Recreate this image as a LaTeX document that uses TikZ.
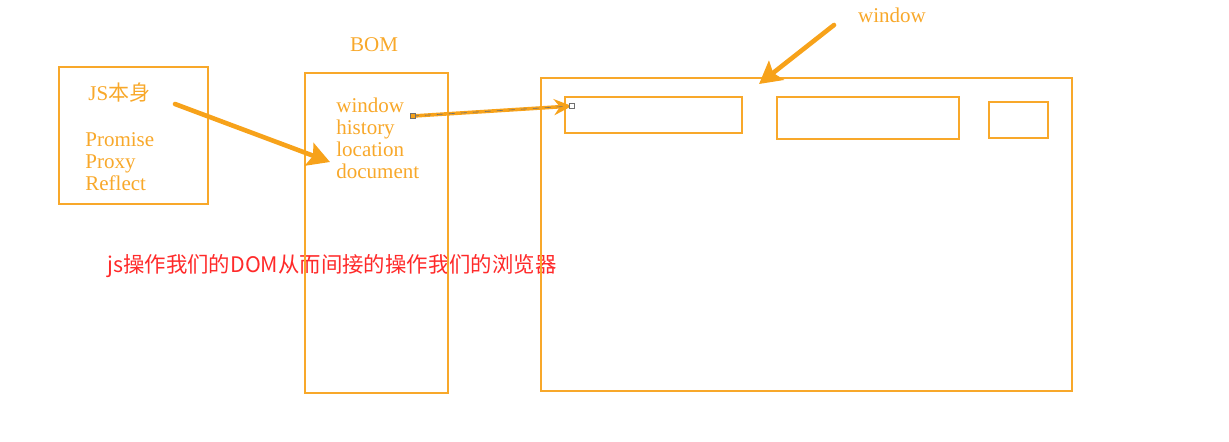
\documentclass[tikz,border=0pt]{standalone}
\usepackage{fontspec}
\setmainfont{Liberation Serif}
\newfontfamily\cjk{Noto Sans CJK SC}
\usetikzlibrary{arrows.meta,positioning,calc}
\definecolor{bomorange}{HTML}{F8A82A}
\definecolor{bomarrow}{HTML}{F7A21A}
\definecolor{bomred}{HTML}{FF2A2A}
\definecolor{bomgrey}{HTML}{707070}
\tikzset{
  panel/.style={draw=bomorange,line width=1.4pt,inner sep=0pt},
  otext/.style={text=bomorange,font=\fontsize{10.5}{11}\selectfont,inner sep=0pt},
  fatarrow/.style={draw=bomarrow,line width=2.3pt,line cap=round,-{Stealth[length=11pt,width=12pt,inset=2pt]}},
  handle/.style={draw=bomgrey,line width=0.4pt,minimum size=2.6pt,inner sep=0pt}
}
\begin{document}
\begin{tikzpicture}[x=0.5pt,y=-0.5pt]
  \useasboundingbox (0,0) rectangle (1229,441);
  % caption line behind the boxes
  \node[anchor=base west,text=bomred,font=\cjk\fontsize{10.7}{11}\selectfont,inner sep=0pt] (caption) at (107,272) {js操作我们的DOM从而间接的操作我们的浏览器};
  % left box
  \draw[panel] (59,67) rectangle (208,204);
  \node[otext,anchor=base west] (jsself) at (88,100) {JS{\cjk 本身}};
  \foreach \i/\l in {0/Promise,1/Proxy,2/Reflect}
    {\node[otext,anchor=base west] (js\i) at (85,146+\i*22) {\l};}
  % BOM box
  \draw[panel] (305,73) rectangle (448,393);
  \node[otext,anchor=base] (bomtitle) at (374,51) {BOM};
  \foreach \i/\l in {0/window,1/history,2/location,3/document}
    {\node[otext,anchor=base west] (bom\i) at (336,112+\i*22) {\l};}
  % window box
  \draw[panel] (541,78) rectangle (1072,391);
  \draw[panel] (565,97) rectangle (742,133);
  \draw[panel] (777,97) rectangle (959,139);
  \draw[panel] (989,102) rectangle (1048,138);
  \node[otext,anchor=base] (wintitle) at (892,22) {window};
  % arrows
  \coordinate (jsfrom) at (175,104);
  \coordinate (jsto) at (330,162);
  \coordinate (wfrom) at (834,25);
  \coordinate (wto) at (759,84);
  \coordinate (hfrom) at (413,116);
  \coordinate (hto) at (572,106);
  \draw[fatarrow] (jsfrom) -- (jsto);
  \draw[fatarrow] (wfrom) -- (wto);
  \draw[draw=bomarrow,line width=1.8pt,-{Stealth[length=9pt,width=8pt]}] (hfrom) -- (hto);
  \draw[bomgrey,line width=0.3pt,dashed] (hfrom) -- (hto);
  \node[handle,fill=bomarrow] at (hfrom) {};
  \node[handle,fill=white] at (hto) {};
\end{tikzpicture}
\end{document}
